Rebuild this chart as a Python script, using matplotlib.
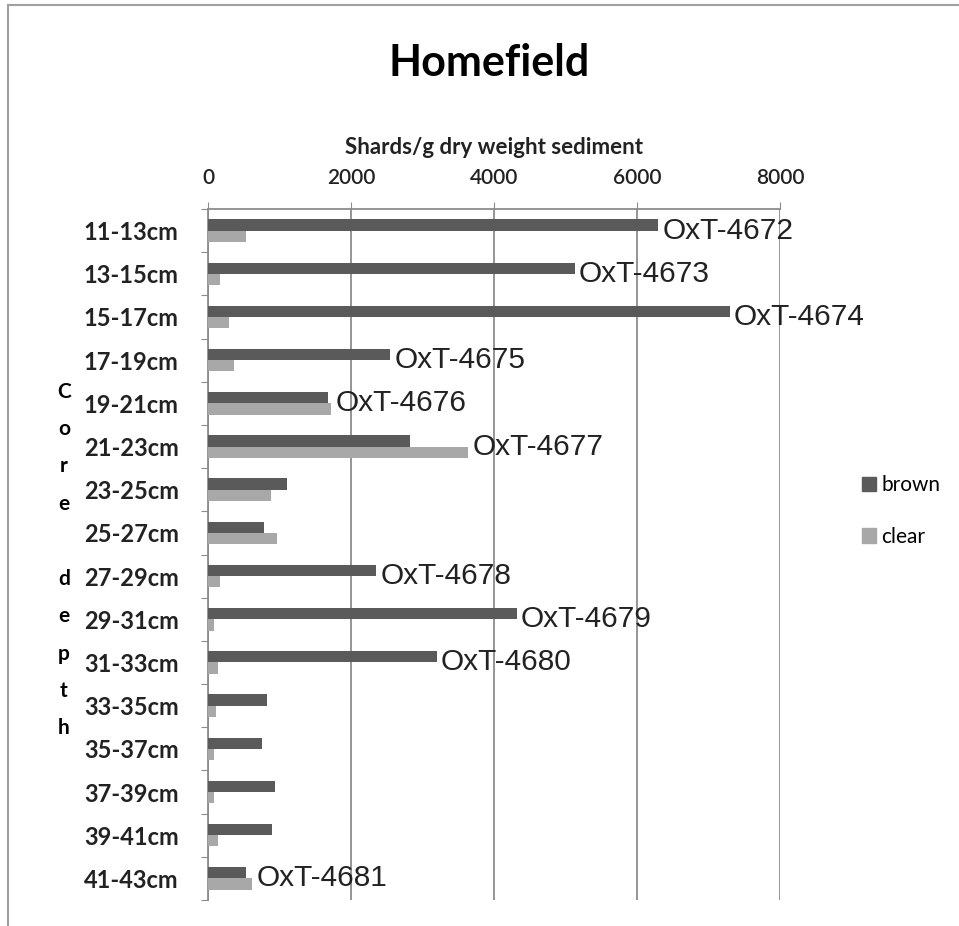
import numpy as np
import matplotlib
matplotlib.use("Agg")
import matplotlib.pyplot as plt
from matplotlib.patches import Patch
from matplotlib.lines import Line2D

categories = ["11-13cm", "13-15cm", "15-17cm", "17-19cm", "19-21cm", "21-23cm",
              "23-25cm", "25-27cm", "27-29cm", "29-31cm", "31-33cm", "33-35cm",
              "35-37cm", "37-39cm", "39-41cm", "41-43cm"]
brown = [6300, 5130, 7300, 2550, 1680, 2830, 1100, 780, 2350, 4320, 3200, 820,
         760, 940, 900, 530]
clear = [530, 170, 300, 370, 1720, 3640, 880, 960, 170, 80, 140, 110,
         80, 80, 140, 620]
sample_labels = ["OxT-4672", "OxT-4673", "OxT-4674", "OxT-4675", "OxT-4676", "OxT-4677",
                 "", "", "OxT-4678", "OxT-4679", "OxT-4680", "", "", "", "", "OxT-4681"]
xticks = [0, 2000, 4000, 6000, 8000]

W, H = 959, 926
fig = plt.figure(figsize=(W / 100, H / 100), dpi=100)
fig.patch.set_facecolor("white")

L, R, T, B = 208, 780, 209, 900
ax = fig.add_axes([L / W, 1 - B / H, (R - L) / W, (B - T) / H])

brown_c = "#5a5a5a"
clear_c = "#a8a8a8"
grid_c = "#8c8c8c"
lab_font = ["Lato", "DejaVu Sans"]

y = np.arange(len(categories))
h = 0.26
ax.barh(y - h / 2, brown, height=h, color=brown_c, zorder=3)
ax.barh(y + h / 2, clear, height=h, color=clear_c, zorder=3)

ax.set_xlim(0, 8000)
ax.set_ylim(len(categories) - 0.5, -0.5)

# x axis on top
ax.xaxis.tick_top()
ax.xaxis.set_label_position("top")
ax.set_xticks(xticks)
ax.set_xticklabels([str(v) for v in xticks], fontsize=15, family=lab_font,
                   fontweight="semibold", color="#222222")
ax.tick_params(axis="x", which="major", length=5, color=grid_c, pad=10)
ax.set_xlabel("Shards/g dry weight sediment", fontsize=16, fontweight="bold",
              family=lab_font, labelpad=10, color="#222222")

# y axis
ax.set_yticks(np.arange(-0.5, len(categories), 1))
ax.set_yticklabels([])
ax.set_yticks(y, minor=True)
ax.set_yticklabels(categories, minor=True, fontsize=17, fontweight="bold",
                   family=lab_font, color="#222222")
ax.tick_params(axis="y", which="major", length=5, color=grid_c)
ax.tick_params(axis="y", which="minor", length=0, pad=21)

for s in ["right", "bottom"]:
    ax.spines[s].set_visible(False)
for s in ["left", "top"]:
    ax.spines[s].set_color(grid_c)
    ax.spines[s].set_linewidth(1.3)

ax.grid(axis="x", color=grid_c, linewidth=1.3, zorder=0)
ax.set_axisbelow(True)

for i, lab in enumerate(sample_labels):
    if lab:
        ax.annotate(lab, (max(brown[i], clear[i]), y[i]), xytext=(3, 0),
                    textcoords="offset points", ha="left", va="center",
                    fontsize=21.5, family=["Liberation Sans", "DejaVu Sans"],
                    color="#222222", zorder=4)

# Title
fig.text(489 / W, 1 - 63 / H, "Homefield", ha="center", va="center",
         fontsize=31, fontweight="bold", family=lab_font)

# vertical stacked y label
fig.text(64 / W, 1 - 560 / H, "C\no\nr\ne\n\nd\ne\np\nt\nh", ha="center", va="center",
         fontsize=15, fontweight="bold", family=lab_font, linespacing=2.09)

# legend
handles = [Patch(color=brown_c, label="brown"), Patch(color=clear_c, label="clear")]
fig.legend(handles=handles, loc="center left", bbox_to_anchor=(843 / W, 1 - 511 / H),
           frameon=False, prop={"family": lab_font, "size": 15},
           handlelength=0.7, handleheight=0.7, handletextpad=0.25, labelspacing=1.5)

# chart-area border (top and left)
fig.add_artist(Line2D([8 / W, 8 / W], [0, 1 - 5 / H], transform=fig.transFigure,
                      color="#a0a0a0", linewidth=1.5))
fig.add_artist(Line2D([8 / W, 1], [1 - 5 / H, 1 - 5 / H], transform=fig.transFigure,
                      color="#a0a0a0", linewidth=1.5))

fig.savefig("out.png", dpi=100)
